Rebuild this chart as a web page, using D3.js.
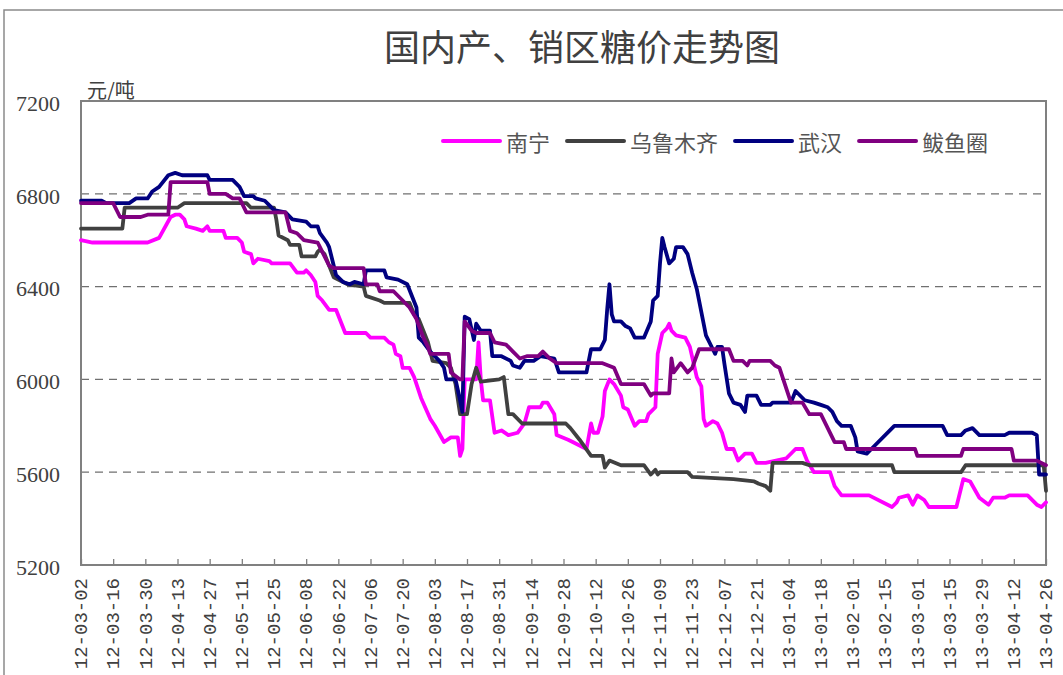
<!DOCTYPE html>
<html lang="zh-CN">
<head>
<meta charset="utf-8">
<title>国内产、销区糖价走势图</title>
<script src="https://cdn.jsdelivr.net/npm/d3@7"></script>
<style>
  body { margin: 0; background: #fff; }
  svg { display: block; }
  .grid line { stroke: #707070; stroke-width: 1.3; stroke-dasharray: 8,6; }
  .serie { fill: none; stroke-width: 3.8; stroke-linejoin: round; stroke-linecap: round; }
  .ytick text { font-family: "Liberation Serif", "DejaVu Serif", serif !important; }
  .xtick text { font-family: "Liberation Mono", "DejaVu Sans Mono", monospace !important; }
</style>
</head>
<body>
<div id="chart"></div>
<script>
// categorias / eixos
var seriesNames = ["南宁", "乌鲁木齐", "武汉", "鲅鱼圈"];
var seriesColors = ["#ff00ff", "#404040", "#000080", "#800080"];
var yTicks = [5200, 5600, 6000, 6400, 6800, 7200];
var xTickLabels = ["12-03-02","12-03-16","12-03-30","12-04-13","12-04-27","12-05-11","12-05-25",
  "12-06-08","12-06-22","12-07-06","12-07-20","12-08-03","12-08-17","12-08-31","12-09-14",
  "12-09-28","12-10-12","12-10-26","12-11-09","12-11-23","12-12-07","12-12-21","13-01-04",
  "13-01-18","13-02-01","13-02-15","13-03-01","13-03-15","13-03-29","13-04-12","13-04-26"];

// séries (data, 元/吨)
var nanning = [["12-03-02",6600],["12-03-07",6590],["12-03-31",6590],["12-04-05",6610],["12-04-10",6700],["12-04-12",6710],["12-04-14",6710],["12-04-16",6690],["12-04-17",6660],["12-04-21",6650],["12-04-24",6640],["12-04-26",6660],["12-04-27",6640],["12-05-03",6640],["12-05-04",6610],["12-05-09",6610],["12-05-11",6590],["12-05-12",6550],["12-05-15",6540],["12-05-16",6500],["12-05-18",6520],["12-05-23",6510],["12-05-24",6500],["12-06-01",6500],["12-06-04",6460],["12-06-07",6460],["12-06-08",6470],["12-06-10",6450],["12-06-12",6420],["12-06-13",6360],["12-06-15",6340],["12-06-18",6300],["12-06-21",6300],["12-06-25",6200],["12-07-04",6200],["12-07-06",6180],["12-07-12",6180],["12-07-14",6160],["12-07-16",6150],["12-07-17",6110],["12-07-19",6100],["12-07-20",6050],["12-07-23",6050],["12-07-25",6010],["12-07-28",5920],["12-08-01",5830],["12-08-03",5800],["12-08-07",5730],["12-08-10",5750],["12-08-13",5750],["12-08-14",5670],["12-08-15",5700],["12-08-16",6000],["12-08-21",6000],["12-08-22",6160],["12-08-23",6000],["12-08-24",5910],["12-08-27",5910],["12-08-29",5770],["12-09-01",5780],["12-09-04",5760],["12-09-08",5770],["12-09-11",5810],["12-09-13",5880],["12-09-18",5880],["12-09-19",5900],["12-09-21",5900],["12-09-24",5850],["12-09-25",5760],["12-09-30",5740],["12-10-02",5730],["12-10-08",5700],["12-10-10",5810],["12-10-11",5770],["12-10-13",5770],["12-10-15",5840],["12-10-16",5950],["12-10-18",6000],["12-10-20",5980],["12-10-23",5930],["12-10-24",5880],["12-10-26",5870],["12-10-29",5800],["12-10-31",5820],["12-11-03",5820],["12-11-04",5850],["12-11-07",5880],["12-11-08",6110],["12-11-10",6200],["12-11-12",6220],["12-11-13",6240],["12-11-14",6210],["12-11-16",6190],["12-11-20",6180],["12-11-22",6140],["12-11-25",6010],["12-11-27",5970],["12-11-28",5830],["12-11-29",5800],["12-12-02",5820],["12-12-04",5810],["12-12-06",5770],["12-12-08",5700],["12-12-11",5700],["12-12-13",5650],["12-12-16",5680],["12-12-19",5680],["12-12-21",5640],["12-12-25",5640],["13-01-03",5660],["13-01-07",5700],["13-01-10",5700],["13-01-12",5650],["13-01-15",5600],["13-01-22",5600],["13-01-24",5540],["13-01-27",5500],["13-02-08",5500],["13-02-18",5450],["13-02-20",5470],["13-02-21",5490],["13-02-25",5500],["13-02-27",5460],["13-03-01",5500],["13-03-04",5480],["13-03-06",5450],["13-03-18",5450],["13-03-21",5570],["13-03-24",5560],["13-03-28",5490],["13-04-01",5460],["13-04-03",5490],["13-04-08",5490],["13-04-10",5500],["13-04-18",5500],["13-04-22",5460],["13-04-24",5450],["13-04-26",5470]];

var wulumuqi = [["12-03-02",6650],["12-03-20",6650],["12-03-21",6740],["12-04-13",6740],["12-04-16",6760],["12-05-13",6760],["12-05-15",6740],["12-05-25",6740],["12-05-26",6690],["12-05-27",6620],["12-05-31",6600],["12-06-01",6580],["12-06-05",6580],["12-06-06",6530],["12-06-12",6530],["12-06-13",6550],["12-06-14",6560],["12-06-16",6540],["12-06-20",6440],["12-06-26",6410],["12-07-03",6400],["12-07-04",6360],["12-07-10",6340],["12-07-12",6330],["12-07-23",6330],["12-07-25",6280],["12-07-27",6260],["12-07-31",6160],["12-08-02",6080],["12-08-08",6070],["12-08-10",6050],["12-08-12",5980],["12-08-14",5850],["12-08-17",5850],["12-08-19",5980],["12-08-21",6050],["12-08-23",5990],["12-08-31",6000],["12-09-02",6010],["12-09-04",5850],["12-09-06",5850],["12-09-10",5810],["12-09-29",5810],["12-10-01",5790],["12-10-05",5740],["12-10-10",5670],["12-10-15",5670],["12-10-16",5620],["12-10-18",5650],["12-10-23",5630],["12-11-02",5630],["12-11-05",5590],["12-11-07",5610],["12-11-08",5590],["12-11-09",5600],["12-11-21",5600],["12-11-23",5580],["12-12-11",5570],["12-12-20",5560],["12-12-22",5550],["12-12-25",5540],["12-12-27",5520],["12-12-28",5640],["13-01-10",5640],["13-01-13",5630],["13-02-18",5630],["13-02-19",5600],["13-03-20",5600],["13-03-22",5630],["13-04-25",5630],["13-04-26",5520]];

var wuhan = [["12-03-02",6770],["12-03-11",6770],["12-03-13",6760],["12-03-23",6760],["12-03-26",6780],["12-03-31",6780],["12-04-02",6810],["12-04-05",6830],["12-04-09",6880],["12-04-12",6890],["12-04-15",6880],["12-04-26",6880],["12-04-27",6860],["12-05-07",6860],["12-05-10",6830],["12-05-12",6790],["12-05-16",6790],["12-05-17",6780],["12-05-21",6770],["12-05-23",6750],["12-05-25",6730],["12-05-30",6720],["12-06-02",6690],["12-06-08",6680],["12-06-10",6660],["12-06-13",6660],["12-06-14",6630],["12-06-17",6590],["12-06-18",6570],["12-06-20",6490],["12-06-21",6450],["12-06-24",6420],["12-06-27",6410],["12-06-29",6420],["12-07-03",6410],["12-07-04",6470],["12-07-12",6470],["12-07-13",6440],["12-07-18",6430],["12-07-22",6410],["12-07-26",6310],["12-07-27",6180],["12-07-29",6160],["12-08-01",6120],["12-08-05",6080],["12-08-07",6050],["12-08-08",6000],["12-08-12",6000],["12-08-14",5910],["12-08-15",5860],["12-08-16",6270],["12-08-18",6260],["12-08-20",6170],["12-08-21",6240],["12-08-23",6210],["12-08-27",6210],["12-08-28",6100],["12-09-01",6100],["12-09-05",6080],["12-09-06",6060],["12-09-09",6050],["12-09-11",6080],["12-09-15",6080],["12-09-18",6100],["12-09-24",6090],["12-09-26",6030],["12-10-08",6030],["12-10-10",6130],["12-10-14",6130],["12-10-16",6170],["12-10-17",6300],["12-10-18",6410],["12-10-19",6280],["12-10-20",6250],["12-10-23",6250],["12-10-25",6230],["12-10-27",6220],["12-10-29",6180],["12-11-02",6180],["12-11-05",6250],["12-11-06",6340],["12-11-08",6360],["12-11-09",6500],["12-11-10",6610],["12-11-11",6570],["12-11-13",6500],["12-11-15",6520],["12-11-16",6570],["12-11-19",6570],["12-11-21",6540],["12-11-23",6460],["12-11-25",6390],["12-11-27",6290],["12-11-29",6190],["12-12-02",6130],["12-12-03",6110],["12-12-04",6140],["12-12-06",6140],["12-12-07",6070],["12-12-09",5940],["12-12-11",5900],["12-12-14",5890],["12-12-16",5860],["12-12-17",5930],["12-12-21",5930],["12-12-23",5890],["12-12-27",5890],["12-12-28",5900],["13-01-05",5900],["13-01-07",5950],["13-01-11",5910],["13-01-15",5900],["13-01-18",5890],["13-01-21",5880],["13-01-23",5860],["13-01-25",5820],["13-01-27",5800],["13-01-31",5800],["13-02-02",5750],["13-02-03",5690],["13-02-07",5680],["13-02-09",5700],["13-02-19",5800],["13-03-12",5800],["13-03-14",5760],["13-03-20",5760],["13-03-22",5780],["13-03-25",5790],["13-03-28",5760],["13-04-08",5760],["13-04-10",5770],["13-04-20",5770],["13-04-22",5760],["13-04-23",5590],["13-04-26",5590]];

var bayuquan = [["12-03-02",6760],["12-03-16",6760],["12-03-19",6700],["12-03-28",6700],["12-03-31",6710],["12-04-09",6710],["12-04-10",6850],["12-04-26",6850],["12-04-27",6800],["12-05-04",6800],["12-05-07",6780],["12-05-10",6780],["12-05-13",6720],["12-05-30",6720],["12-06-01",6640],["12-06-04",6630],["12-06-07",6600],["12-06-13",6590],["12-06-14",6570],["12-06-18",6490],["12-06-20",6480],["12-07-03",6480],["12-07-04",6410],["12-07-09",6410],["12-07-10",6380],["12-07-16",6380],["12-07-20",6340],["12-07-23",6310],["12-07-26",6260],["12-07-29",6180],["12-07-31",6140],["12-08-01",6110],["12-08-09",6110],["12-08-10",6030],["12-08-14",6000],["12-08-15",6000],["12-08-16",6250],["12-08-19",6210],["12-08-21",6200],["12-08-27",6200],["12-08-29",6160],["12-09-03",6150],["12-09-06",6120],["12-09-09",6090],["12-09-12",6100],["12-09-17",6100],["12-09-19",6120],["12-09-22",6090],["12-09-25",6070],["12-10-15",6070],["12-10-20",6050],["12-10-23",5980],["12-11-02",5980],["12-11-05",5930],["12-11-06",5940],["12-11-13",5940],["12-11-14",6090],["12-11-15",6030],["12-11-18",6070],["12-11-21",6030],["12-11-23",6050],["12-11-26",6130],["12-12-09",6130],["12-12-11",6080],["12-12-15",6080],["12-12-17",6060],["12-12-18",6080],["12-12-27",6080],["12-12-29",6060],["12-12-31",6050],["13-01-05",5900],["13-01-10",5900],["13-01-13",5850],["13-01-18",5850],["13-01-21",5790],["13-01-24",5730],["13-01-28",5730],["13-01-29",5700],["13-02-28",5700],["13-03-01",5670],["13-03-20",5670],["13-03-21",5700],["13-04-11",5700],["13-04-12",5650],["13-04-22",5650],["13-04-26",5630]];

var allSeries = [nanning, wulumuqi, wuhan, bayuquan];

var width = 1063, height = 675;
var margin = {top: 101, right: 17, bottom: 110, left: 81};
var parseDia = d3.utcParse("%y-%m-%d");
var textoCor = "#404040";

var svg = d3.select("#chart").append("svg")
  .attr("width", width)
  .attr("height", height);

svg.append("rect").attr("width", width).attr("height", height).attr("fill", "#fff");

// moldura externa
svg.append("path")
  .attr("d", "M4," + height + "V10H" + width)
  .attr("fill", "none")
  .attr("stroke", "#8a8a8a")
  .attr("stroke-width", 1.5);

var x = d3.scaleUtc()
  .domain([parseDia(xTickLabels[0]), parseDia(xTickLabels[xTickLabels.length - 1])])
  .range([margin.left, width - margin.right]);

var y = d3.scaleLinear()
  .domain([5200, 7200])
  .range([height - margin.bottom, margin.top]);

// titulo
svg.append("text")
  .attr("x", 582).attr("y", 45)
  .attr("text-anchor", "middle")
  .attr("dominant-baseline", "central")
  .attr("font-family", "'Noto Sans CJK SC', sans-serif")
  .attr("font-size", 36)
  .attr("fill", textoCor)
  .text("国内产、销区糖价走势图");

svg.append("text")
  .attr("x", 87).attr("y", 89)
  .attr("dominant-baseline", "central")
  .attr("font-family", "'Noto Sans CJK SC', sans-serif")
  .attr("font-size", 20)
  .attr("fill", textoCor)
  .text("元/吨");

// grade
svg.append("g").attr("class", "grid")
  .selectAll("line")
  .data(yTicks.filter(function(v) { return v > 5200 && v < 7200; }))
  .enter().append("line")
    .attr("x1", x.range()[0]).attr("x2", x.range()[1])
    .attr("y1", function(d) { return y(d); })
    .attr("y2", function(d) { return y(d); });

// eixo y
var eixoY = svg.append("g")
  .attr("class", "ytick")
  .attr("transform", "translate(" + margin.left + ",0)")
  .call(d3.axisLeft(y).tickValues(yTicks).tickSize(0).tickPadding(21).tickFormat(d3.format("d")));
eixoY.select(".domain").remove();
eixoY.selectAll("text")
  .attr("font-size", 22)
  .attr("fill", textoCor)
  .attr("dy", "0.42em");

// eixo x
var eixoX = svg.append("g")
  .attr("class", "xtick")
  .attr("transform", "translate(0," + y.range()[0] + ")")
  .call(d3.axisBottom(x)
    .tickValues(xTickLabels.map(parseDia))
    .tickSizeInner(-6).tickSizeOuter(0)
    .tickFormat(d3.utcFormat("%y-%m-%d")));
eixoX.select(".domain").remove();
eixoX.selectAll(".tick line").attr("stroke", "#808080").attr("stroke-width", 1.3);
eixoX.selectAll("text")
  .attr("font-size", 19)
  .attr("fill", textoCor)
  .attr("text-anchor", "end")
  .attr("y", 0)
  .attr("dy", "0.3em")
  .attr("transform", "translate(0,13) rotate(-90)");

// moldura do grafico
svg.append("rect")
  .attr("x", x.range()[0]).attr("y", y.range()[1])
  .attr("width", x.range()[1] - x.range()[0])
  .attr("height", y.range()[0] - y.range()[1])
  .attr("fill", "none")
  .attr("stroke", "#808080")
  .attr("stroke-width", 2);

// linhas
var linha = d3.line()
  .x(function(d) { return x(parseDia(d[0])); })
  .y(function(d) { return y(d[1]); });

svg.selectAll(".serie")
  .data(allSeries)
  .enter().append("path")
    .attr("class", "serie")
    .attr("stroke", function(d, i) { return seriesColors[i]; })
    .attr("d", linha);

// legenda
var legX = 443, legY = 141;
seriesNames.forEach(function(nome, i) {
  svg.append("line")
    .attr("x1", legX).attr("x2", legX + 57)
    .attr("y1", legY).attr("y2", legY)
    .attr("stroke", seriesColors[i])
    .attr("stroke-width", 4)
    .attr("stroke-linecap", "round");
  var t = svg.append("text")
    .attr("x", legX + 63).attr("y", legY)
    .attr("dominant-baseline", "central")
    .attr("font-family", "'Noto Sans CJK SC', sans-serif")
    .attr("font-size", 22)
    .attr("fill", "#555")
    .text(nome);
  legX = legX + 63 + t.node().getComputedTextLength() + 17;
});
</script>
</body>
</html>
